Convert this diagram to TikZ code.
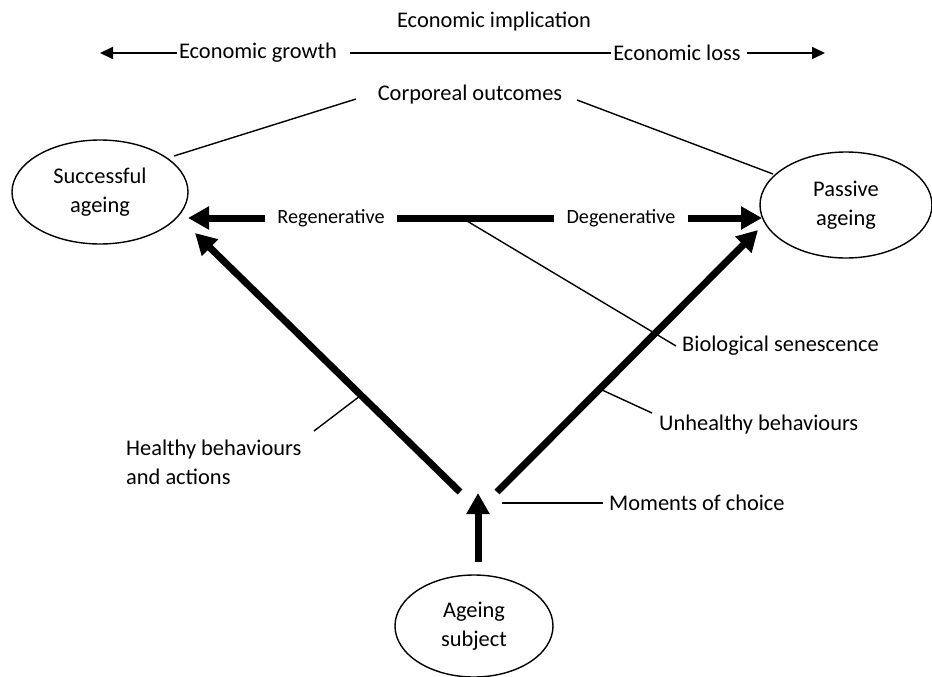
\documentclass[tikz,border=0pt]{standalone}
\usepackage{fontspec}
\setmainfont{Carlito}
\usetikzlibrary{arrows.meta,shapes.geometric}

\begin{document}
\begin{tikzpicture}[x=1pt,y=-1pt]

\tikzset{
  every node/.style={font=\fontsize{22.4}{29}\selectfont, inner sep=0pt},
  Bubble/.style={draw, ellipse, line width=1.4pt, align=center},
  Small/.style={font=\fontsize{20.2}{24}\selectfont, inner xsep=12pt},
  Thin/.style={line width=1.4pt},
  Econ/.style={line width=1.8pt, -{Triangle[length=13pt,width=12pt]}},
  Bold/.style={line width=7pt},
  BoldArrow/.style={line width=7pt, -{Triangle[length=21pt,width=22pt]}}
}

\useasboundingbox (0,0) rectangle (932,677);

\node[Bubble, minimum width=176pt, minimum height=104pt] (succ) at (100,192) {Successful\\ageing};
\node[Bubble, minimum width=172pt, minimum height=106pt] (pass) at (846,205) {Passive\\ageing};
\node[Bubble, minimum width=158pt, minimum height=102pt] (subj) at (474,626) {Ageing\\subject};

\node (impl) at (494,22) {Economic implication};
\node[inner xsep=2pt] (growth) at (258,53) {Economic growth};
\node[inner xsep=2pt] (loss) at (677,53) {Economic loss};
\node[inner xsep=17pt] (corp) at (470,95) {Corporeal outcomes};

\node[Small] (regen) at (331,218) {Regenerative};
\node[Small] (degen) at (621,218) {Degenerative};

\node[anchor=west, inner xsep=6pt] (bio) at (676,346) {Biological senescence};
\node[anchor=west] (unh) at (659,425) {Unhealthy behaviours};
\node[anchor=west, align=left] (hlth) at (126,462) {Healthy behaviours\\and actions};
\node[anchor=west, inner xsep=6pt] (mom) at (603,503) {Moments of choice};

\coordinate (gTip) at (100,53);
\coordinate (lTip) at (825,53);
\coordinate (sTip) at (188,218);
\coordinate (pTip) at (762,218);
\coordinate (choice) at (478,493);
\coordinate (hStart) at (460,492);
\coordinate (uStart) at (497,492);
\coordinate (hEnd) at (195,233);
\coordinate (uEnd) at (758,230);
\coordinate (cL) at (356,99);
\coordinate (cR) at (577,100);
\coordinate (sEdge) at (174,156);
\coordinate (pEdge) at (773,174);
\coordinate (bioHit) at (467,221);
\coordinate (hHit) at (360,396);
\coordinate (uHit) at (602,390);
\coordinate (uLbl) at (652,413);
\coordinate (hLbl) at (314,431);
\coordinate (mHit) at (502,503);

\draw[Econ] (growth.west) -- (gTip);
\draw[Econ, -] ([xshift=11pt]growth.east) -- (loss.west);
\draw[Econ] ([xshift=4pt]loss.east) -- (lTip);

\draw[Thin] (cL) -- (sEdge);
\draw[Thin] (cR) -- (pEdge);

\draw[BoldArrow] (regen.west) -- (sTip);
\draw[Bold] (regen.east) -- (degen.west);
\draw[BoldArrow] (degen.east) -- (pTip);

\draw[BoldArrow] (hStart) -- (hEnd);
\draw[BoldArrow] (uStart) -- (uEnd);
\draw[BoldArrow, shorten <=12pt] (subj.north -| choice) -- (choice);

\draw[Thin] (bioHit) -- (bio.west);
\draw[Thin] (uHit) -- (uLbl);
\draw[Thin] (hHit) -- (hLbl);
\draw[Thin] (mHit) -- (mom.west);

\end{tikzpicture}
\end{document}
